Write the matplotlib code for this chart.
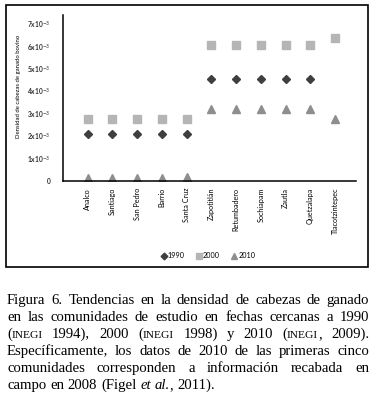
import matplotlib.pyplot as plt
from matplotlib.patches import Rectangle

comunidades = ["Analco", "Santiago", "San Pedro", "Barrio", "Santa Cruz",
               "Zapotitlán", "Retumbadero", "Sochiapam", "Zautla",
               "Quetzalapa", "Tlacotzintepec"]
d1990 = [2.08, 2.08, 2.08, 2.08, 2.08, 4.58, 4.58, 4.58, 4.58, 4.58, None]
d2000 = [2.75, 2.75, 2.75, 2.75, 2.75, 6.1, 6.1, 6.1, 6.1, 6.1, 6.4]
d2010 = [0.13, 0.13, 0.13, 0.13, 0.2, 3.24, 3.24, 3.24, 3.24, 3.24, 2.79]
yticks = [0, 1, 2, 3, 4, 5, 6, 7]
ylabels = ["0"] + [f"{v}x10$^{{-3}}$" for v in yticks[1:]]

small = ["Liberation Sans Narrow", "Lato", "DejaVu Sans"]

fig = plt.figure(figsize=(3.79, 4.05), dpi=100)
fig.patches.append(Rectangle((6 / 379, 1 - 267 / 405), 362 / 379, 262 / 405,
                             transform=fig.transFigure, fill=False,
                             edgecolor="black", linewidth=1.2))

ax = fig.add_axes([63 / 379, 1 - 181 / 405, 293 / 379, 166 / 405])
x = list(range(len(comunidades)))
x90 = [i for i, v in zip(x, d1990) if v is not None]
y90 = [v for v in d1990 if v is not None]
ax.plot(x90, y90, "D", color="#3f3f3f", markersize=4, linestyle="none", label="1990")
ax.plot(x, d2000, "s", color="#b5b5b5", markersize=5.5, linestyle="none", label="2000")
ax.plot(x, d2010, "^", color="#8e8e8e", markersize=5.5, linestyle="none", label="2010")

ax.set_xlim(-1, 10.85)
ax.set_ylim(0, 7.42)
ax.set_yticks(yticks)
ax.set_yticklabels(ylabels, family=small, fontsize=4.8, color="#333333",
                   fontweight="bold")
ax.set_xticks(x)
ax.set_xticklabels(comunidades, rotation=90, family=small, fontsize=5.2,
                   va="top", ha="center")
ax.tick_params(axis="both", length=0)
ax.tick_params(axis="x", pad=5)
ax.tick_params(axis="y", pad=9)
for s in ["top", "right"]:
    ax.spines[s].set_visible(False)
for s in ["left", "bottom"]:
    ax.spines[s].set_linewidth(1.1)
ax.set_ylabel("Densidad de cabezas de ganado bovino", family=small, fontsize=4.3)
ax.yaxis.set_label_coords(-0.145, 0.57)

fig.legend(loc="center", bbox_to_anchor=(208 / 379, 1 - 256 / 405), ncol=3,
           frameon=False, handletextpad=0.15, columnspacing=1.6, handlelength=0.8,
           markerscale=0.85, prop={"family": small, "size": 5.2})

# caption, justified word by word
caption = [
    "Figura 6. Tendencias en la densidad de cabezas de ganado",
    "en las comunidades de estudio en fechas cercanas a 1990",
    "(INEGI 1994), 2000 (INEGI 1998) y 2010 (INEGI, 2009).",
    "Específicamente, los datos de 2010 de las primeras cinco",
    "comunidades corresponden a información recabada en",
    "campo en 2008 (Figel et al., 2011).",
]
serif = ["Liberation Serif", "DejaVu Serif"]
fs = 10.6
renderer = fig.canvas.get_renderer()
left, right = 7, 369
y0 = 300
lh = 17


def segments(word):
    out = []
    if "INEGI" in word:
        a, b = word.split("INEGI")
        if a:
            out.append((a, fs, "normal"))
        out.append(("INEGI", fs * 0.78, "normal"))
        if b:
            out.append((b, fs, "normal"))
    elif word in ("et", "al.,"):
        if word == "al.,":
            out.append(("al.", fs, "italic"))
            out.append((",", fs, "normal"))
        else:
            out.append((word, fs, "italic"))
    else:
        out.append((word, fs, "normal"))
    return out


def width(txt, size=fs, style="normal"):
    t = fig.text(0, 0, txt, family=serif, fontsize=size, style=style)
    w = t.get_window_extent(renderer).width
    t.remove()
    return w


space = width("a a") - 2 * width("a")

for li, line in enumerate(caption):
    words = line.split(" ")
    placed = []
    total = 0
    for w in words:
        segs = []
        wwidth = 0
        for txt, size, style in segments(w):
            t = fig.text(0, 0, txt, family=serif, fontsize=size, style=style,
                         va="baseline", ha="left")
            bw = t.get_window_extent(renderer).width
            segs.append((t, bw))
            wwidth += bw
        placed.append((segs, wwidth))
        total += wwidth
    if li < len(caption) - 1:
        gap = (right - left - total) / (len(words) - 1)
    else:
        gap = space
    xpos = left
    ybase = 1 - (y0 + li * lh + 4) / 405
    for segs, wwidth in placed:
        for t, w in segs:
            t.set_position((xpos / 379, ybase))
            xpos += w
        xpos += gap

fig.savefig("out.png", dpi=100)
